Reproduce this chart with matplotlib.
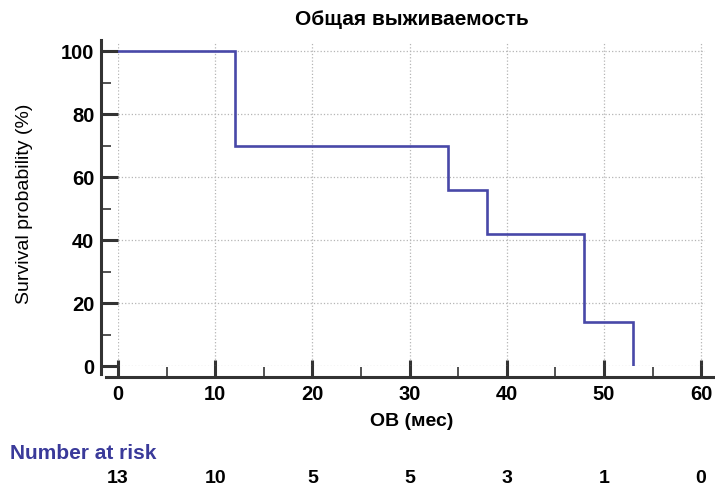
import matplotlib
matplotlib.use("Agg")
import matplotlib.pyplot as plt
from matplotlib.ticker import MultipleLocator
from matplotlib.transforms import blended_transform_factory

# Data
times = [0, 12, 34, 38, 48, 53]
survival = [100, 70, 56, 42, 14, 0]
risk_times = [0, 10, 20, 30, 40, 50, 60]
risk_counts = [13, 10, 5, 5, 3, 1, 0]

plt.rcParams['font.family'] = ['Liberation Sans', 'DejaVu Sans']

fig = plt.figure(figsize=(7.15, 4.86), dpi=100)
ax = fig.add_axes([118/715, 1-366/486, (705-118)/715, (366-42)/486])

ax.step(times, survival, where='post', color='#4848a8', lw=1.9, solid_joinstyle='miter')

ax.set_xlim(0, 60.4)
ax.set_ylim(0, 103)

ax.xaxis.set_major_locator(MultipleLocator(10))
ax.xaxis.set_minor_locator(MultipleLocator(5))
ax.yaxis.set_major_locator(MultipleLocator(20))
ax.yaxis.set_minor_locator(MultipleLocator(10))

ax.grid(True, which='major', color='#b5b5b5', linestyle=':', linewidth=0.9)
ax.set_axisbelow(True)

for s in ['top', 'right']:
    ax.spines[s].set_visible(False)
ax.spines['left'].set_position(('outward', 12))
ax.spines['bottom'].set_position(('outward', 8))
for s in ['left', 'bottom']:
    ax.spines[s].set_linewidth(2.2)
    ax.spines[s].set_color('#333333')
ax.spines['left'].set_bounds(-8/3.15, 103.5)
ax.spines['bottom'].set_bounds(-12/9.72, 61.5)

ax.tick_params(axis='both', which='major', direction='in', length=12, width=2.2,
               color='#333333', labelsize=14.5)
ax.tick_params(axis='both', which='minor', direction='in', length=7, width=1.2,
               color='#333333')
ax.tick_params(axis='x', which='major', pad=6)
ax.tick_params(axis='y', which='major', pad=5)
for lab in ax.get_xticklabels() + ax.get_yticklabels():
    lab.set_fontweight('bold')

ax.set_title('Общая выживаемость', fontsize=15, fontweight='bold', pad=12)
ax.set_xlabel('ОВ (мес)', fontsize=14, fontweight='bold', labelpad=6)
ax.set_ylabel('Survival probability (%)', fontsize=14, labelpad=20)

fig.text(10/715, 1-453/486, 'Number at risk', fontsize=15, fontweight='bold',
         color='#3a3a9a', ha='left', va='center')
tr = blended_transform_factory(ax.transData, fig.transFigure)
for t, n in zip(risk_times, risk_counts):
    ax.text(t, 1-478/486, str(n), transform=tr, ha='center', va='center',
            fontsize=14, fontweight='bold', clip_on=False)

fig.savefig('out.png', dpi=100)
